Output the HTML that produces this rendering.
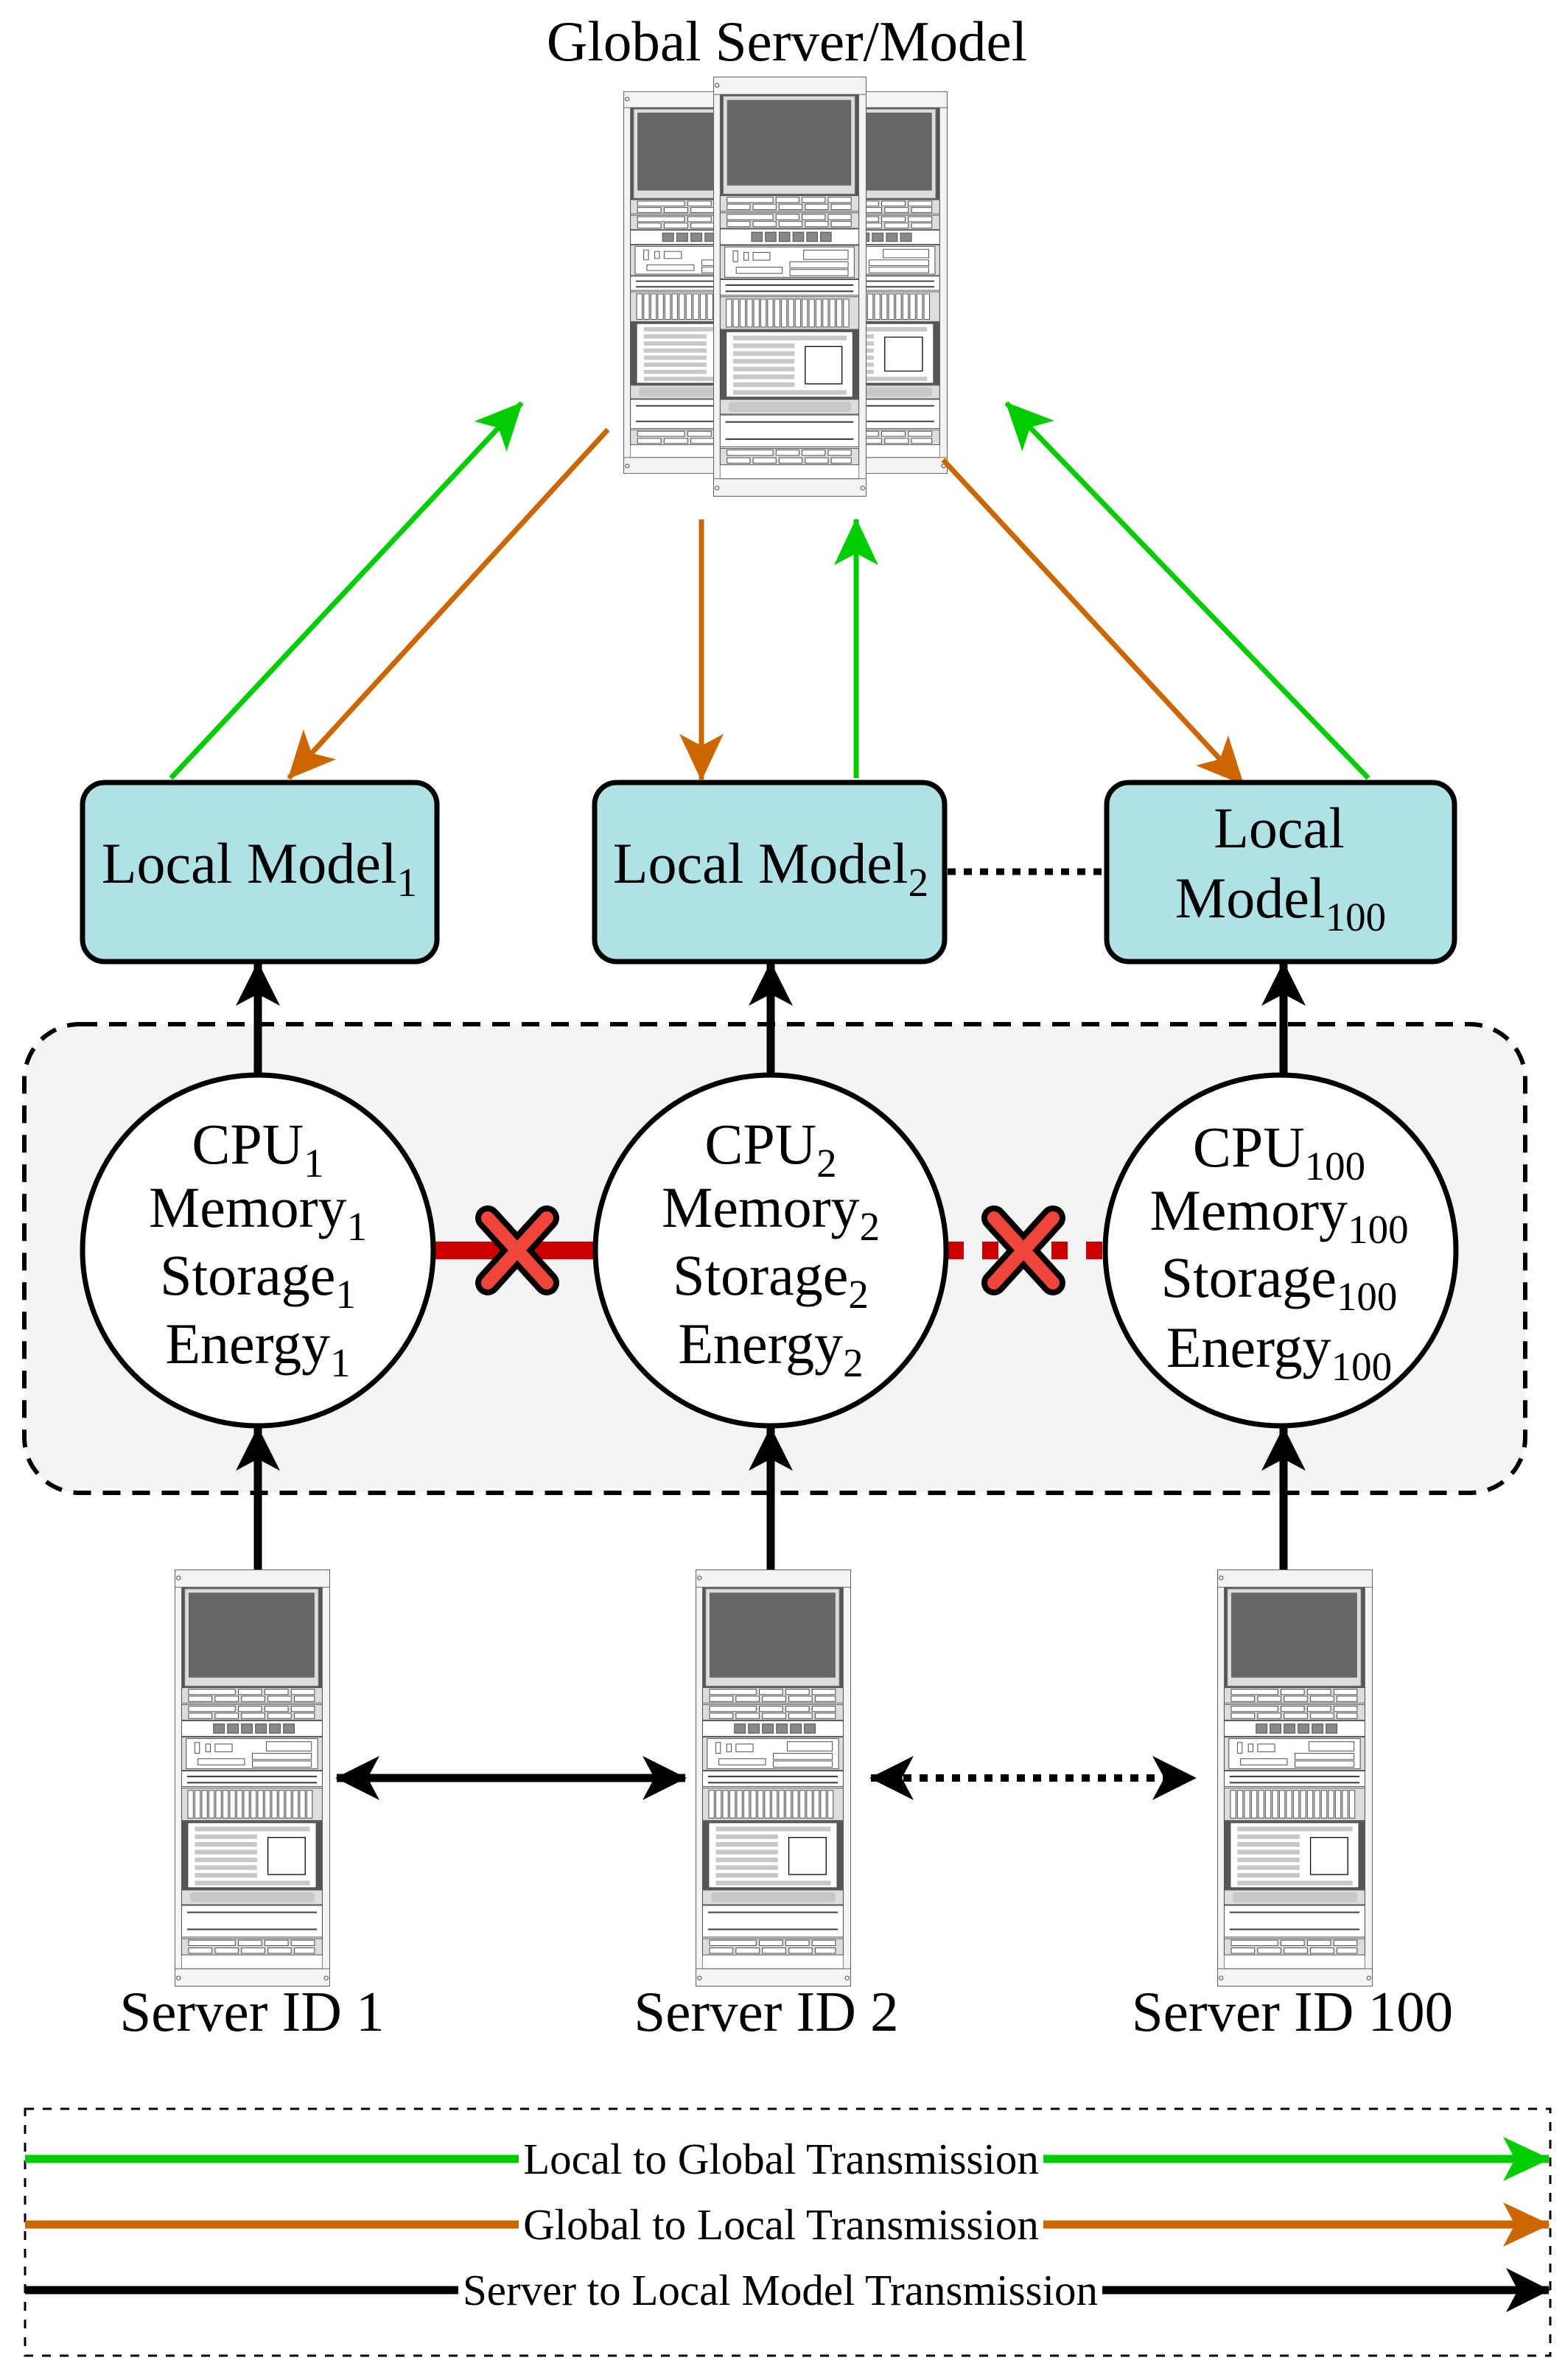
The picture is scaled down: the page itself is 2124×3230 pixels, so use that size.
<!DOCTYPE html>
<html><head><meta charset="utf-8"><style>
html,body{margin:0;padding:0;background:#fff;}
svg{display:block;}
text{font-family:"Liberation Serif",serif;fill:#000;}
</style></head><body>
<svg width="2124" height="3230" viewBox="0 0 2124 3230" xmlns="http://www.w3.org/2000/svg">
<defs>
<marker id="ag" markerUnits="userSpaceOnUse" viewBox="0 0 64 60" refX="62" refY="30" markerWidth="64" markerHeight="60" orient="auto"><path d="M0,0 L64,30 L0,60 L16,30 Z" fill="#00cc00"/></marker>
<marker id="ao" markerUnits="userSpaceOnUse" viewBox="0 0 64 60" refX="62" refY="30" markerWidth="64" markerHeight="60" orient="auto"><path d="M0,0 L64,30 L0,60 L16,30 Z" fill="#cc6600"/></marker>
<marker id="ab" markerUnits="userSpaceOnUse" viewBox="0 0 60 60" refX="58" refY="30" markerWidth="60" markerHeight="60" orient="auto"><path d="M0,0 L60,30 L0,60 L16,30 Z" fill="#000"/></marker>
<marker id="abs" markerUnits="userSpaceOnUse" viewBox="0 0 60 60" refX="2" refY="30" markerWidth="60" markerHeight="60" orient="auto"><path d="M60,0 L0,30 L60,60 L44,30 Z" fill="#000"/></marker>
<symbol id="rack" viewBox="0 0 200 540" preserveAspectRatio="none">
<rect x="0.5" y="0.5" width="199" height="539" fill="#f4f4f4" stroke="#666" stroke-width="1"/>
<rect x="9" y="23" width="181" height="494" fill="#fff" stroke="#888" stroke-width="1"/>
<line x1="0" y1="23" x2="200" y2="23" stroke="#666"/><line x1="0" y1="517" x2="200" y2="517" stroke="#666"/>
<circle cx="5" cy="11" r="2.5" fill="none" stroke="#555"/><circle cx="5" cy="529" r="2.5" fill="none" stroke="#555"/><circle cx="195" cy="529" r="2.5" fill="none" stroke="#555"/>
<rect x="9" y="23" width="181" height="130" fill="#555"/>
<rect x="13" y="25" width="172" height="126" fill="#ddd" stroke="#777"/>
<rect x="18" y="30" width="162" height="110" fill="#666"/>
<g fill="#fff" stroke="#555" stroke-width="1">
<rect x="9" y="153" width="181" height="20" fill="#ddd"/><rect x="18" y="155" width="60" height="7"/><rect x="82" y="155" width="30" height="7"/><rect x="116" y="155" width="30" height="7"/><rect x="150" y="155" width="30" height="7"/><rect x="18" y="164" width="30" height="7"/><rect x="52" y="164" width="30" height="7"/><rect x="86" y="164" width="30" height="7"/><rect x="120" y="164" width="30" height="7"/><rect x="154" y="164" width="26" height="7"/>
<rect x="9" y="175" width="181" height="20" fill="#ddd"/><rect x="18" y="177" width="60" height="7"/><rect x="82" y="177" width="30" height="7"/><rect x="116" y="177" width="30" height="7"/><rect x="150" y="177" width="30" height="7"/><rect x="18" y="186" width="30" height="7"/><rect x="52" y="186" width="30" height="7"/><rect x="86" y="186" width="30" height="7"/><rect x="120" y="186" width="30" height="7"/><rect x="154" y="186" width="26" height="7"/>
<rect x="9" y="196" width="181" height="20"/>
<rect x="9" y="217" width="181" height="43" fill="#ddd"/><rect x="15" y="219" width="169" height="39"/>
<rect x="9" y="261" width="181" height="20"/>
<rect x="9" y="283" width="181" height="42" fill="#ddd"/>
<rect x="9" y="326" width="181" height="88" fill="#555"/><rect x="17" y="328" width="165" height="84"/>
<rect x="9" y="415" width="181" height="19" fill="#ddd"/>
<rect x="9" y="435" width="181" height="41"/>
<rect x="9" y="478" width="181" height="21" fill="#ddd"/><rect x="18" y="480" width="60" height="7"/><rect x="82" y="480" width="30" height="7"/><rect x="116" y="480" width="30" height="7"/><rect x="150" y="480" width="30" height="7"/><rect x="18" y="490" width="30" height="7"/><rect x="52" y="490" width="30" height="7"/><rect x="86" y="490" width="30" height="7"/><rect x="120" y="490" width="30" height="7"/><rect x="154" y="490" width="26" height="7"/>
</g>
<g fill="#888" stroke="#555"><rect x="50" y="200" width="14" height="12"/><rect x="68" y="200" width="14" height="12"/><rect x="86" y="200" width="14" height="12"/><rect x="104" y="200" width="14" height="12"/><rect x="122" y="200" width="14" height="12"/><rect x="140" y="200" width="14" height="12"/></g>
<g fill="#fff" stroke="#555"><rect x="26" y="224" width="6" height="14"/><rect x="40" y="226" width="6" height="10"/><rect x="52" y="226" width="22" height="10"/><rect x="118" y="223" width="58" height="12"/><rect x="30" y="245" width="60" height="8"/><rect x="100" y="238" width="76" height="8"/><rect x="100" y="248" width="76" height="8"/></g>
<g stroke="#444" stroke-width="2"><line x1="16" y1="268" x2="183" y2="268"/><line x1="16" y1="276" x2="183" y2="276"/><line x1="16" y1="444" x2="183" y2="444"/><line x1="16" y1="466" x2="183" y2="466"/></g>
<g fill="#fff" stroke="#555"><rect x="17" y="286" width="7" height="36"/><rect x="26" y="286" width="7" height="36"/><rect x="35" y="286" width="7" height="36"/><rect x="44" y="286" width="7" height="36"/><rect x="53" y="286" width="7" height="36"/><rect x="62" y="286" width="7" height="36"/><rect x="71" y="286" width="7" height="36"/><rect x="80" y="286" width="7" height="36"/><rect x="89" y="286" width="7" height="36"/><rect x="98" y="286" width="7" height="36"/><rect x="107" y="286" width="7" height="36"/><rect x="116" y="286" width="7" height="36"/><rect x="125" y="286" width="7" height="36"/><rect x="134" y="286" width="7" height="36"/><rect x="143" y="286" width="7" height="36"/><rect x="152" y="286" width="7" height="36"/><rect x="161" y="286" width="7" height="36"/><rect x="170" y="286" width="7" height="36"/></g>
<g fill="#c8c8c8"><rect x="26" y="333" width="148" height="6"/><rect x="26" y="343" width="80" height="6"/><rect x="26" y="353" width="80" height="6"/><rect x="26" y="363" width="80" height="6"/><rect x="26" y="373" width="80" height="6"/><rect x="26" y="383" width="80" height="6"/><rect x="26" y="393" width="80" height="6"/><rect x="26" y="403" width="148" height="6"/><rect x="20" y="418" width="160" height="13" rx="4"/></g>
<rect x="120" y="347" width="48" height="48" fill="#fff" stroke="#000" stroke-width="1.2"/>
</symbol>
</defs>

<text x="1068" y="82" font-size="77" text-anchor="middle">Global Server/Model</text>
<use href="#rack" x="846" y="124" width="213" height="519"/>
<use href="#rack" x="1073" y="124" width="213" height="519"/>
<use href="#rack" x="968" y="104" width="208" height="570"/>

<g stroke-width="7" fill="none">
<line x1="232" y1="1056" x2="708" y2="547" stroke="#00cc00" marker-end="url(#ag)"/>
<line x1="825" y1="583" x2="392" y2="1056" stroke="#cc6600" marker-end="url(#ao)"/>
<line x1="952" y1="705" x2="952" y2="1058" stroke="#cc6600" marker-end="url(#ao)"/>
<line x1="1162" y1="1056" x2="1162" y2="705" stroke="#00cc00" marker-end="url(#ag)"/>
<line x1="1280" y1="624" x2="1687" y2="1064" stroke="#cc6600" marker-end="url(#ao)"/>
<line x1="1857" y1="1056" x2="1366" y2="547" stroke="#00cc00" marker-end="url(#ag)"/>
</g>

<rect x="33" y="1390" width="2037" height="636" rx="75" fill="#f4f4f4" stroke="#000" stroke-width="6" stroke-dasharray="24 16"/>

<g fill="#b0e2e5" stroke="#000" stroke-width="7">
<rect x="112" y="1062" width="481" height="243" rx="30"/>
<rect x="807" y="1062" width="475" height="243" rx="30"/>
<rect x="1502" y="1062" width="472" height="243" rx="30"/>
</g>
<line x1="1286" y1="1183" x2="1500" y2="1183" stroke="#000" stroke-width="9" stroke-dasharray="11 11"/>
<text x="352" y="1198" font-size="78" text-anchor="middle">Local Model<tspan font-size="55" dy="18">1</tspan></text>
<text x="1046" y="1198" font-size="78" text-anchor="middle">Local Model<tspan font-size="55" dy="18">2</tspan></text>
<text x="1736" y="1150" font-size="78" text-anchor="middle">Local</text>
<text x="1738" y="1245" font-size="78" text-anchor="middle">Model<tspan font-size="55" dy="18">100</tspan></text>

<line x1="590" y1="1697" x2="810" y2="1697" stroke="#cc0000" stroke-width="24"/>
<line x1="1286" y1="1697" x2="1506" y2="1697" stroke="#cc0000" stroke-width="24" stroke-dasharray="22 25"/>
<g stroke-linecap="round">
<g transform="translate(702,1697)"><path d="M-40,-44 L40,44 M40,-44 L-40,44" stroke="#000" stroke-width="34"/><path d="M-40,-44 L40,44 M40,-44 L-40,44" stroke="#f0453a" stroke-width="18"/></g>
<g transform="translate(1389,1697)"><path d="M-40,-44 L40,44 M40,-44 L-40,44" stroke="#000" stroke-width="34"/><path d="M-40,-44 L40,44 M40,-44 L-40,44" stroke="#f0453a" stroke-width="18"/></g>
</g>

<g fill="#fff" stroke="#000" stroke-width="7">
<circle cx="350" cy="1697" r="238"/>
<circle cx="1046" cy="1697" r="238"/>
<circle cx="1738" cy="1697" r="238"/>
</g>
<g font-size="78" text-anchor="middle">
<text x="350" y="1579">CPU<tspan font-size="55" dy="18">1</tspan></text>
<text x="350" y="1665">Memory<tspan font-size="55" dy="18">1</tspan></text>
<text x="350" y="1757">Storage<tspan font-size="55" dy="18">1</tspan></text>
<text x="350" y="1850">Energy<tspan font-size="55" dy="18">1</tspan></text>
<text x="1046" y="1579">CPU<tspan font-size="55" dy="18">2</tspan></text>
<text x="1046" y="1665">Memory<tspan font-size="55" dy="18">2</tspan></text>
<text x="1046" y="1757">Storage<tspan font-size="55" dy="18">2</tspan></text>
<text x="1046" y="1850">Energy<tspan font-size="55" dy="18">2</tspan></text>
<text x="1736" y="1583">CPU<tspan font-size="55" dy="18">100</tspan></text>
<text x="1736" y="1669">Memory<tspan font-size="55" dy="18">100</tspan></text>
<text x="1736" y="1760">Storage<tspan font-size="55" dy="18">100</tspan></text>
<text x="1736" y="1855">Energy<tspan font-size="55" dy="18">100</tspan></text>
</g>

<g stroke="#000" stroke-width="11">
<line x1="350" y1="1459" x2="350" y2="1307" marker-end="url(#ab)"/>
<line x1="1046" y1="1459" x2="1046" y2="1307" marker-end="url(#ab)"/>
<line x1="1742" y1="1459" x2="1742" y2="1307" marker-end="url(#ab)"/>
<line x1="350" y1="2132" x2="350" y2="1938" marker-end="url(#ab)"/>
<line x1="1046" y1="2132" x2="1046" y2="1938" marker-end="url(#ab)"/>
<line x1="1742" y1="2132" x2="1742" y2="1938" marker-end="url(#ab)"/>
</g>

<use href="#rack" x="237" y="2130" width="211" height="566"/>
<use href="#rack" x="944" y="2130" width="211" height="566"/>
<use href="#rack" x="1652" y="2130" width="211" height="566"/>

<line x1="457" y1="2413" x2="930" y2="2413" stroke="#000" stroke-width="11" marker-start="url(#abs)" marker-end="url(#ab)"/>
<line x1="1182" y1="2413" x2="1622" y2="2413" stroke="#000" stroke-width="10" stroke-dasharray="11 11" marker-start="url(#abs)" marker-end="url(#ab)"/>

<g font-size="77" text-anchor="middle">
<text x="342" y="2756">Server ID 1</text>
<text x="1040" y="2756">Server ID 2</text>
<text x="1754" y="2756">Server ID 100</text>
</g>

<rect x="34" y="2862" width="2070" height="335" fill="none" stroke="#000" stroke-width="3" stroke-dasharray="12 12"/>
<line x1="34" y1="2930" x2="2102" y2="2930" stroke="#00cc00" stroke-width="11" marker-end="url(#ag)"/>
<line x1="34" y1="3019" x2="2102" y2="3019" stroke="#cc6600" stroke-width="11" marker-end="url(#ao)"/>
<line x1="34" y1="3108" x2="2102" y2="3108" stroke="#000" stroke-width="11" marker-end="url(#ab)"/>
<rect x="704" y="2895" width="712" height="64" fill="#fff"/>
<rect x="704" y="2984" width="712" height="64" fill="#fff"/>
<rect x="622" y="3073" width="874" height="64" fill="#fff"/>
<g font-size="59" text-anchor="middle">
<text x="1060" y="2950">Local to Global Transmission</text>
<text x="1060" y="3039">Global to Local Transmission</text>
<text x="1059" y="3128">Server to Local Model Transmission</text>
</g>
</svg>
</body></html>
